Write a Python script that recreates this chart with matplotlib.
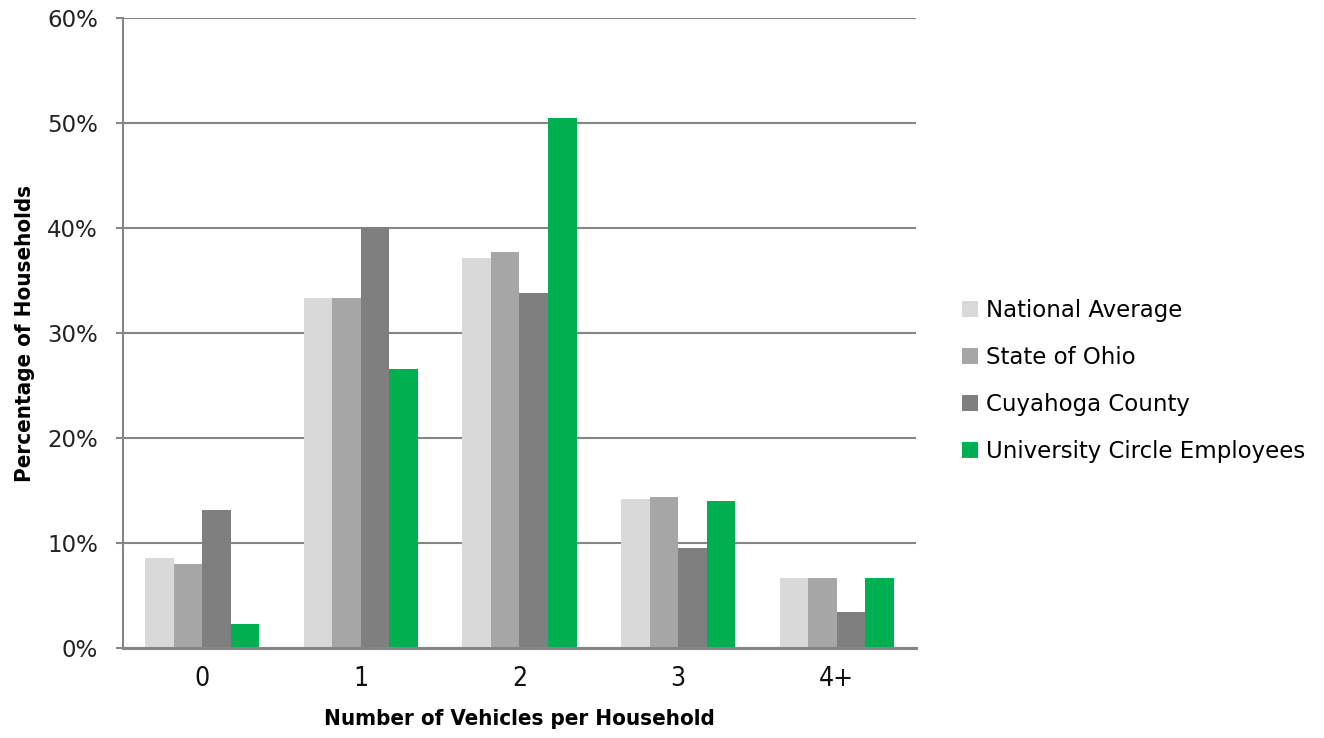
import matplotlib
matplotlib.use('Agg')
import matplotlib.pyplot as plt
import numpy as np


categories = ['0', '1', '2', '3', '4+']
national = [8.6, 33.3, 37.1, 14.2, 6.7]
ohio = [8.0, 33.3, 37.7, 14.4, 6.7]
cuyahoga = [13.1, 40.1, 33.8, 9.5, 3.4]
uce = [2.3, 26.6, 50.5, 14.0, 6.7]

series = [
    ('National Average', national, '#D9D9D9'),
    ('State of Ohio', ohio, '#A6A6A6'),
    ('Cuyahoga County', cuyahoga, '#7F7F7F'),
    ('University Circle Employees', uce, '#00B050'),
]

grid_color = '#868686'

fig = plt.figure(figsize=(13.24, 7.38), dpi=100)
ax = fig.add_axes([0.0929, 0.122, 0.5989, 0.8536])

x = np.arange(len(categories))
width = 0.18
for i, (label, vals, color) in enumerate(series):
    ax.bar(x + (i - 1.5) * width, vals, width, color=color, label=label, zorder=3)

ax.set_xlim(-0.5, len(categories) - 0.5)
ax.set_ylim(0, 60)
ax.set_yticks(np.arange(0, 61, 10))
ax.set_yticklabels([f'{v}%' for v in range(0, 61, 10)], fontsize=16.5, color='#222222')
ax.set_xticks(x)
ax.set_xticklabels(categories, fontsize=19, fontstretch='condensed', color='#111111')

ax.yaxis.grid(True, color=grid_color, linewidth=1.5, zorder=0)
ax.tick_params(axis='y', direction='out', length=5, width=1.5, color=grid_color, pad=13)
ax.tick_params(axis='x', length=0, pad=13)

for side in ['top', 'right']:
    ax.spines[side].set_visible(False)
ax.spines['left'].set_color(grid_color)
ax.spines['left'].set_linewidth(1.5)
ax.spines['bottom'].set_color(grid_color)
ax.spines['bottom'].set_linewidth(2.2)
ax.spines['bottom'].set_zorder(4)

ax.set_xlabel('Number of Vehicles per Household', fontsize=16, fontweight='bold',
              fontstretch='condensed', labelpad=12)
ax.set_ylabel('Percentage of Households', fontsize=16, fontweight='bold',
              fontstretch='condensed', labelpad=9)

fig.legend(loc='center left', bbox_to_anchor=(0.7195, 0.4837), frameon=False,
           fontsize=16.5, handlelength=0.7, handleheight=0.7, handletextpad=0.35,
           labelspacing=1.05, borderaxespad=0)

fig.savefig('out.png', dpi=100)
